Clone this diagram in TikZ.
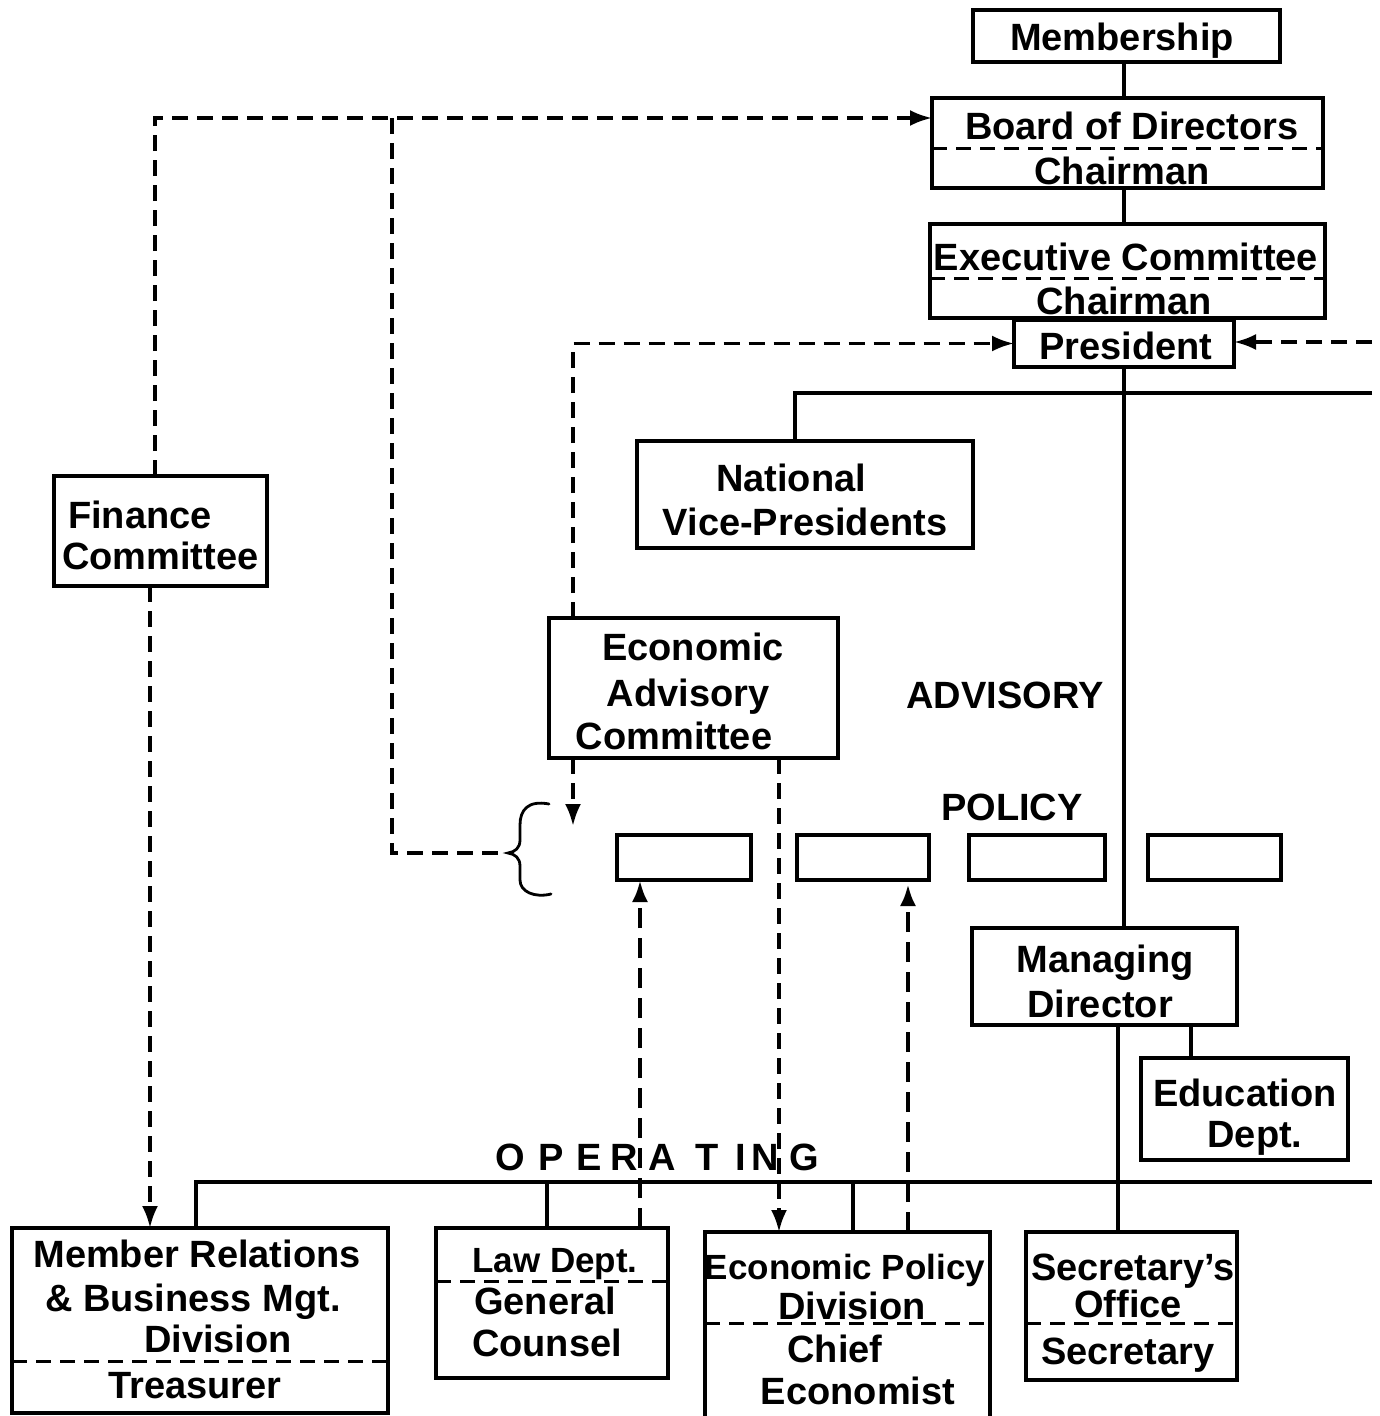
\documentclass[tikz,border=0pt]{standalone}
\usepackage{fontspec}
\setmainfont{Liberation Sans}
\usetikzlibrary{arrows.meta}

\begin{document}
\begin{tikzpicture}[x=1pt,y=-1pt,
  box/.style={draw,line width=3.5pt,inner sep=0pt,outer sep=0pt},
  lbl/.style={anchor=base,inner sep=0pt,outer sep=0pt,font=\fontsize{38}{40}\selectfont\bfseries},
  lblsm/.style={lbl,font=\fontsize{35}{38}\selectfont\bfseries},
  conn/.style={line width=3.2pt},
  dsh/.style={line width=3.5pt,dash pattern=on 16pt off 9pt},
  dshbold/.style={line width=4.5pt,dash pattern=on 20pt off 10pt},
  divider/.style={line width=3pt,dash pattern=on 15pt off 9pt},
  tip/.style={-{Latex[length=22pt,width=16pt]}},
]
\useasboundingbox (0,0) rectangle (1379,1416);
\clip (0,0) rectangle (1379,1416);

% ---------- boxes ----------
\node[box,minimum width=307pt,minimum height=52pt]  (member) at (1126.5,36) {};
\node[box,minimum width=391pt,minimum height=90pt]  (board)  at (1127.5,143) {};
\node[box,minimum width=395pt,minimum height=94pt]  (exec)   at (1127.5,271) {};
\node[box,minimum width=220pt,minimum height=47pt]  (pres)   at (1124,343.5) {};
\node[box,minimum width=336pt,minimum height=107pt] (nvp)    at (805,494.5) {};
\node[box,minimum width=213pt,minimum height=110pt] (fin)    at (160.5,531) {};
\node[box,minimum width=289pt,minimum height=140pt] (eac)    at (693.5,688) {};
\node[box,minimum width=134pt,minimum height=45pt]  (p1)     at (684,857.5) {};
\node[box,minimum width=132pt,minimum height=45pt]  (p2)     at (863,857.5) {};
\node[box,minimum width=136pt,minimum height=45pt]  (p3)     at (1037,857.5) {};
\node[box,minimum width=133pt,minimum height=45pt]  (p4)     at (1214.5,857.5) {};
\node[box,minimum width=265pt,minimum height=97pt]  (md)     at (1104.5,976.5) {};
\node[box,minimum width=207pt,minimum height=102pt] (edu)    at (1244.5,1109) {};
\node[box,minimum width=376pt,minimum height=185pt] (mr)     at (200,1320.5) {};
\node[box,minimum width=232pt,minimum height=150pt] (law)    at (552,1303) {};
\node[box,minimum width=285pt,minimum height=193pt] (epd)    at (847.5,1328.5) {};
\node[box,minimum width=211pt,minimum height=148pt] (sec)    at (1131.5,1306) {};

% dashed dividers inside the two-part boxes
\draw[divider] (932,148) -- (1323,148);
\draw[divider] (930,278) -- (1325,278);
\draw[divider] (12,1361) -- (388,1361);
\draw[divider] (436,1281) -- (668,1281);
\draw[divider] (705,1323) -- (990,1323);
\draw[divider] (1026,1323) -- (1237,1323);

% ---------- box texts ----------
\node[lbl] (tMember) at (1122,50)  {Membership};
\node[lbl] (tBoard)  at (1132,139) {Board of Directors};
\node[lbl] (tBChair) at (1122,184) {Chairman};
\node[lbl] (tExec)   at (1126,270) {Executive Committee};
\node[lbl] (tEChair) at (1124,314) {Chairman};
\node[lbl] (tPres)   at (1126,359) {President};
\node[lbl] (tNat)    at (791,491)  {National};
\node[lbl] (tVP)     at (805,535)  {Vice-Presidents};
\node[lbl,anchor=base west] (tFin)  at (68,528) {Finance};
\node[lbl,anchor=base west] (tFinC) at (62,569) {Committee};
\node[lbl] (tEcon)   at (693,660)  {Economic};
\node[lbl] (tAdv)    at (688,706)  {Advisory};
\node[lbl] (tComm)   at (674,749)  {Committee};
\node[lbl] (tManag)  at (1105,972) {Managing};
\node[lbl] (tDir)    at (1100,1017) {Director};
\node[lbl] (tEdu)    at (1245,1106) {Education};
\node[lbl] (tDept)   at (1255,1147) {Dept.};
\node[lbl] (tMR1)    at (197,1267) {Member Relations};
\node[lbl] (tMR2)    at (193,1311) {\& Business Mgt.};
\node[lbl] (tMR3)    at (218,1352) {Division};
\node[lbl] (tMR4)    at (195,1398) {Treasurer};
\node[lblsm] (tLaw)  at (555,1272) {Law Dept.};
\node[lbl] (tGen)    at (545,1314) {General};
\node[lbl] (tCoun)   at (547,1356) {Counsel};
\node[lblsm] (tEP1)  at (845,1279) {Economic Policy};
\node[lbl] (tEP2)    at (852,1319) {Division};
\node[lbl] (tEP3)    at (835,1362) {Chief};
\node[lbl] (tEP4)    at (858,1404) {Economist};
\node[lbl] (tSec1)   at (1133,1280) {Secretary's};
\node[lbl] (tSec2)   at (1128,1317) {Office};
\node[lbl] (tSec3)   at (1128,1364) {Secretary};

% ---------- level headings ----------
\node[lbl] (tAdvisory) at (1005,708) {ADVISORY};
\node[lbl] (tPolicy)   at (1012,820) {POLICY};
\foreach \l/\x [count=\i] in {O/510,P/551,E/589,R/624,A/662,T/707,I/741,N/765,G/804}
  \node[lbl] (op\i) at (\x,1170) {\l};

% ---------- solid lines of authority ----------
\draw[conn] (pres.center |- member.south) -- (pres.center |- board.north);
\draw[conn] (pres.center |- board.south) -- (pres.center |- exec.north);
\draw[conn] (pres.south) -- (pres.south |- md.north);

\coordinate (vpJ) at (795,393);
\coordinate (vpR) at (1372,393);
\draw[conn] (vpR) -- (vpJ) -- (vpJ |- nvp.north);

\coordinate (eduJ) at (1191,1025);
\draw[conn] (eduJ) -- (eduJ |- edu.north);

\coordinate (busL) at (196,1182);
\coordinate (busR) at (1372,1182);
\coordinate (lawJ) at (547,1182);
\coordinate (epdJ) at (853,1182);
\coordinate (secJ) at (1118,1182);
\draw[conn] (busR) -- (busL) -- (busL |- mr.north);
\draw[conn] (lawJ) -- (lawJ |- law.north);
\draw[conn] (epdJ) -- (epdJ |- epd.north);
\draw[conn] (md.south -| secJ) -- (secJ |- sec.north);

% ---------- dashed lines of advice and control ----------
\coordinate (finT) at (155,476);
\coordinate (bdIn) at (932,118);
\draw[dsh,tip] (finT) -- (finT |- bdIn) -- (bdIn);

\coordinate (brTop) at (392,118);
\coordinate (braceM) at (505,853);
\draw[dsh] (brTop) -- (brTop |- braceM) -- (braceM);

\draw[line width=2.8pt,line cap=round]
  (549,804) .. controls (528,800) and (520,810) .. (520,825) -- (520,840)
  .. controls (520,848) and (515,852) .. (508,853)
  .. controls (515,854) and (520,858) .. (520,866) -- (520,880)
  .. controls (520,892) and (535,898) .. (551,894);

\coordinate (finB) at (150,586);
\draw[dsh,tip] (finB) -- (finB |- mr.north);

\coordinate (eacL) at (573,618);
\draw[dsh,tip] (eacL) -- (eacL |- pres.west) -- (pres.west);
\coordinate (eacDt) at (573,826);
\draw[dsh,tip] (eacL |- eac.south) -- (eacDt);

\coordinate (presR) at (1372,342);
\draw[dsh,tip] (presR) -- (presR -| pres.east);

\coordinate (eacR) at (779,758);
\draw[dsh,tip] (eacR) -- (eacR |- epd.north);

\coordinate (lawUp) at (640,1228);
\draw[dshbold,tip] (lawUp) -- (lawUp |- p1.south);
\coordinate (epdUp) at (908,1232);
\coordinate (p2In) at (908,884);
\draw[dshbold,tip] (epdUp) -- (p2In);
\end{tikzpicture}
\end{document}
